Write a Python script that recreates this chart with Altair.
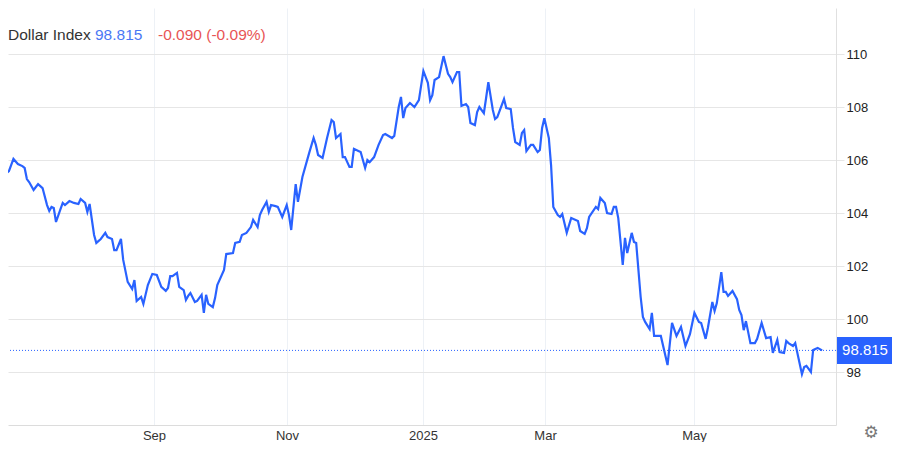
import altair as alt
import pandas as pd

# ---- data (day = calendar days since late June 2024) ----
days = [2, 3, 4, 6, 8, 10, 11, 12, 13, 15, 16, 17, 19, 21, 22, 23, 24, 25, 27, 28,
        29, 31, 33, 35, 36, 38, 39, 40, 42, 43, 45, 47, 48, 50, 51, 52, 54, 55, 57, 59,
        60, 61, 63, 64, 66, 68, 70, 72, 74, 75, 76, 77, 79, 80, 82, 83, 84, 85, 87, 88,
        90, 91, 92, 93, 95, 96, 97, 100, 101, 104, 105, 107, 108, 110, 112, 113, 115, 116, 117, 119,
        120, 121, 123, 124, 126, 128, 129, 130, 132, 133, 135, 138, 140, 141, 142, 144, 146, 148, 149, 150,
        152, 153, 154, 156, 157, 158, 160, 161, 163, 164, 165, 167, 169, 171, 172, 175, 176, 178, 179, 180,
        181, 183, 185, 187, 189, 191, 192, 193, 194, 196, 198, 200, 201, 202, 204, 205, 206, 208, 209, 210,
        212, 213, 214, 216, 217, 218, 220, 221, 222, 225, 226, 228, 229, 230, 232, 233, 234, 235, 237, 238,
        240, 241, 242, 243, 245, 246, 247, 249, 250, 251, 253, 255, 258, 259, 261, 262, 263, 266, 267, 268,
        270, 271, 273, 274, 275, 276, 278, 279, 280, 282, 283, 284, 286, 287, 288, 290, 291, 292, 295, 298,
        300, 302, 304, 306, 308, 310, 312, 313, 315, 316, 318, 319, 320, 322, 323, 324, 325, 327, 329, 330,
        331, 332, 333, 335, 337, 338, 340, 342, 344, 345, 347, 348, 350, 351, 352, 354, 355, 358, 359, 360,
        362, 363, 365, 367]

values = [105.81, 105.51, 105.58, 106.04, 105.85, 105.77, 105.70, 105.28, 105.17, 104.87, 104.98, 105.09, 104.94, 104.30, 104.08, 104.23, 104.19, 103.66, 104.15, 104.38,
          104.30, 104.45, 104.38, 104.34, 104.53, 104.38, 104.04, 104.34, 103.17, 102.87, 103.02, 103.25, 103.09, 103.02, 102.60, 102.60, 103.02, 102.23, 101.40, 101.13,
          101.47, 100.68, 100.83, 100.57, 101.28, 101.70, 101.66, 101.21, 101.06, 101.17, 101.62, 101.62, 101.74, 101.21, 101.09, 100.72, 100.87, 100.98, 100.64, 100.68,
          100.91, 100.23, 100.91, 100.57, 100.45, 100.79, 101.28, 101.85, 102.45, 102.49, 102.87, 102.91, 103.17, 103.25, 103.47, 103.74, 103.47, 103.92, 104.11, 104.42,
          104.04, 104.30, 104.26, 104.23, 103.85, 104.30, 103.92, 103.36, 105.09, 104.42, 105.36, 106.26, 106.83, 106.57, 106.19, 106.08, 106.83, 107.51, 107.43, 106.83,
          106.98, 106.11, 106.11, 105.74, 105.74, 106.42, 106.34, 106.30, 105.70, 106.00, 105.92, 106.11, 106.57, 106.94, 106.98, 106.83, 106.91, 108.00, 108.38, 107.58,
          107.96, 108.15, 108.00, 108.26, 109.36, 108.91, 108.26, 108.45, 109.02, 109.13, 109.92, 109.25, 109.13, 108.94, 109.32, 109.32, 108.04, 108.11, 108.00, 107.40,
          107.32, 107.81, 108.00, 107.77, 108.34, 108.94, 107.89, 107.55, 107.62, 108.30, 107.96, 107.92, 107.21, 106.68, 106.57, 107.02, 107.13, 106.34, 106.57, 106.57,
          106.30, 106.38, 107.21, 107.58, 106.83, 105.81, 104.23, 103.92, 103.85, 103.96, 103.25, 103.81, 103.70, 103.32, 103.21, 103.43, 103.85, 104.23, 104.15, 104.57,
          104.38, 104.00, 103.96, 104.23, 104.23, 103.81, 102.04, 103.06, 102.49, 103.25, 102.91, 102.87, 100.83, 100.08, 99.89, 99.62, 100.23, 99.36, 99.36, 98.26,
          99.85, 99.36, 99.70, 98.98, 99.43, 100.23, 99.89, 99.85, 99.25, 99.66, 100.64, 100.30, 100.60, 101.77, 101.02, 101.02, 100.87, 101.06, 100.75, 100.34,
          100.15, 99.58, 99.92, 99.09, 99.09, 99.25, 99.85, 99.28, 99.32, 98.72, 99.21, 98.75, 98.72, 99.17, 99.09, 98.98, 99.09, 97.92, 98.19, 98.23,
          98.00, 98.83, 98.91, 98.815]

tick_days = [68.75, 128.1, 188.8, 243.3, 309.8]
tick_labels = ["Sep", "Nov", "2025", "Mar", "May"]
y_ticks = [98, 100, 102, 104, 106, 108, 110]

title_name = "Dollar Index"
last_value_text = "98.815"
change_text = "-0.090 (-0.09%)"
last_value = 98.815

BLUE = "#2962ff"
FONT = "Liberation Sans"

df = pd.DataFrame({"day": days, "value": values})

label_expr = " : ".join(
    [f"datum.value == {d} ? '{l}'" for d, l in zip(tick_days, tick_labels)]
) + " : ''"

x_scale = alt.Scale(domain=[3.57, 373.2], nice=False, zero=False)
y_scale = alt.Scale(domain=[96, 111.736], nice=False, zero=False)

line = alt.Chart(df).mark_line(color=BLUE, strokeWidth=2.2, clip=True).encode(
    x=alt.X("day:Q", scale=x_scale,
            axis=alt.Axis(values=tick_days, labelExpr=label_expr, title=None, grid=True,
                          gridColor="#edf1f6", gridWidth=1, ticks=False,
                          domainColor="#dcdcdc", domainWidth=1,
                          labelColor="#333333", labelFontSize=13, labelFont=FONT,
                          labelPadding=4, labelFlush=False, labelOverlap=False)),
    y=alt.Y("value:Q", scale=y_scale,
            axis=alt.Axis(orient="right", values=y_ticks, title=None, grid=True,
                          gridColor="#e6e6e6", gridWidth=1,
                          domainColor="#e0e0e0", domainWidth=1,
                          tickColor="#e6e6e6", tickSize=8, labelPadding=2,
                          labelColor="#222222", labelFontSize=13, labelFont=FONT,
                          labelFlush=False, labelOverlap=False)),
)

last_df = pd.DataFrame({"value": [last_value], "label": [last_value_text]})

rule = alt.Chart(last_df).mark_rule(color=BLUE, strokeWidth=1, strokeDash=[1, 2]).encode(
    y=alt.Y("value:Q", scale=y_scale)
)

box = alt.Chart(last_df).mark_point(
    shape="M-1,-0.49 L1,-0.49 L1,0.49 L-1,0.49 Z",
    filled=True, size=3025, color=BLUE, opacity=1,
).encode(x=alt.value(856.5), y=alt.Y("value:Q", scale=y_scale))

box_text = alt.Chart(last_df).mark_text(
    align="center", baseline="middle", color="white", fontSize=15, font=FONT,
).encode(x=alt.value(857), y=alt.Y("value:Q", scale=y_scale), text="label:N")

h1 = alt.Chart(pd.DataFrame({"t": [title_name]})).mark_text(
    align="left", baseline="alphabetic", color="#333333", fontSize=15.5, font=FONT).encode(
    x=alt.value(0), y=alt.value(32), text="t:N")
h2 = alt.Chart(pd.DataFrame({"t": [last_value_text]})).mark_text(
    align="left", baseline="alphabetic", color="#4a78f5", fontSize=15.5, font=FONT).encode(
    x=alt.value(87), y=alt.value(32), text="t:N")
h3 = alt.Chart(pd.DataFrame({"t": [change_text]})).mark_text(
    align="left", baseline="alphabetic", color="#e85555", fontSize=15.5, font=FONT).encode(
    x=alt.value(150), y=alt.value(32), text="t:N")

gear = alt.Chart(pd.DataFrame({"t": ["\u2699"]})).mark_text(
    align="center", baseline="middle", color="#777777", fontSize=17, font="DejaVu Sans").encode(
    x=alt.value(863), y=alt.value(425), text="t:N")

chart = alt.layer(line, rule, box, box_text, h1, h2, h3, gear).properties(
    width=828, height=417,
    autosize=alt.AutoSizeParams(type="none"),
    padding={"left": 0, "top": 0, "right": 56, "bottom": 17},
    background="white",
).configure_view(stroke=None)

chart.save("out.html", embed_options={"renderer": "svg", "actions": False})
